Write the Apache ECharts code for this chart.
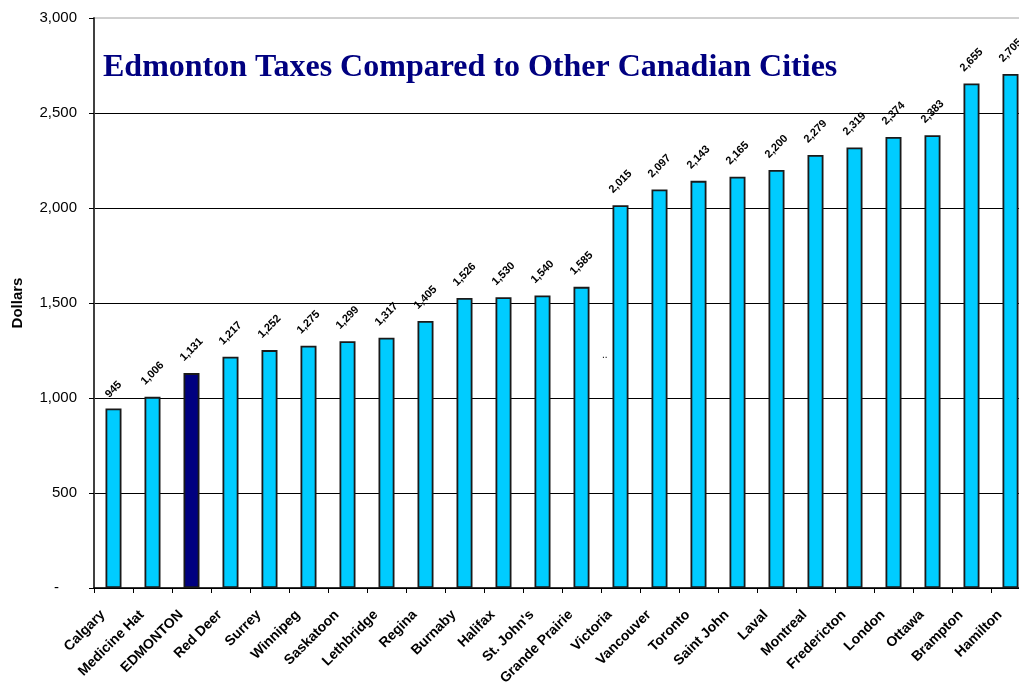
<!DOCTYPE html>
<html>
<head>
<meta charset="utf-8">
<script src="https://cdn.jsdelivr.net/npm/echarts@6/dist/echarts.min.js"></script>
<style>html,body{margin:0;padding:0;background:#fff}#c{width:1019px;height:683px}</style>
</head>
<body>
<div id="c"></div>
<script>
const titleText = 'Edmonton Taxes Compared to Other Canadian Cities';
const cities = ['Calgary','Medicine Hat','EDMONTON','Red Deer','Surrey','Winnipeg','Saskatoon','Lethbridge','Regina','Burnaby','Halifax',"St. John's",'Grande Prairie','Victoria','Vancouver','Toronto','Saint John','Laval','Montreal','Fredericton','London','Ottawa','Brampton','Hamilton'];
const taxes = [945,1006,1131,1217,1252,1275,1299,1317,1405,1526,1530,1540,1585,2015,2097,2143,2165,2200,2279,2319,2374,2383,2655,2705];
const yTicks = [0,500,1000,1500,2000,2500,3000];
const highlightCity = 'EDMONTON';

const fmt = v => v.toLocaleString('en-US');
const chart = echarts.init(document.getElementById('c'), null, {renderer:'canvas'});
chart.setOption({
  animation:false,
  backgroundColor:'#ffffff',
  title:{
    text:titleText, left:103, top:52, padding:0,
    textStyle:{fontFamily:'Liberation Serif', fontWeight:'bold', fontSize:32, color:'#000080'}
  },
  grid:{left:94, top:18, width:936, height:570, outerBoundsMode:'none', containLabel:false,
        show:true, borderColor:'#a0a0a0', borderWidth:1, backgroundColor:'transparent'},
  xAxis:{
    type:'category', data:cities,
    axisLine:{lineStyle:{color:'#000', width:1.5}},
    axisTick:{show:true, length:5, alignWithLabel:false, lineStyle:{color:'#000'}},
    axisLabel:{interval:0, rotate:45, margin:14, padding:[0,15,0,0], fontFamily:'Arial, Liberation Sans', fontWeight:'bold', fontSize:14, color:'#000'}
  },
  yAxis:{
    type:'value', min:yTicks[0], max:yTicks[yTicks.length-1], interval:500,
    name:'Dollars', nameLocation:'middle', nameGap:69, nameRotate:90,
    nameTextStyle:{fontFamily:'Arial, Liberation Sans', fontWeight:'bold', fontSize:15, color:'#000'},
    axisLine:{show:true, lineStyle:{color:'#404040', width:2}},
    axisTick:{show:true, length:5, lineStyle:{color:'#000'}},
    splitLine:{show:true, showMaxLine:false, lineStyle:{color:'#000', width:1}},
    axisLabel:{
      margin:17, fontFamily:'Arial, Liberation Sans', fontSize:15, color:'#000',
      formatter: v => v === 0 ? '{d|-}' : fmt(v),
      rich:{d:{fontFamily:'Arial, Liberation Sans', fontSize:15, color:'#000', padding:[0,18,0,0]}}
    }
  },
  series:[{
    type:'bar', barWidth:16,
    data: taxes.map((v,i)=>({
      value:v,
      itemStyle:{color: cities[i]===highlightCity ? '#000080' : '#00ccff', borderColor:'#1a1a1a', borderWidth:1.8},
      label:{distance: 12 + 2.3*fmt(v).length}
    })),
    label:{
      show:true, position:'top', rotate:45, align:'center', verticalAlign:'middle',
      formatter: p => fmt(p.value),
      fontFamily:'Arial, Liberation Sans', fontWeight:'bold', fontSize:11, color:'#000'
    }
  }],
  graphic:[{type:'text', left:602, top:350, style:{text:'..', fontSize:10, fill:'#000', fontFamily:'Arial'}}]
});
</script>
</body>
</html>
